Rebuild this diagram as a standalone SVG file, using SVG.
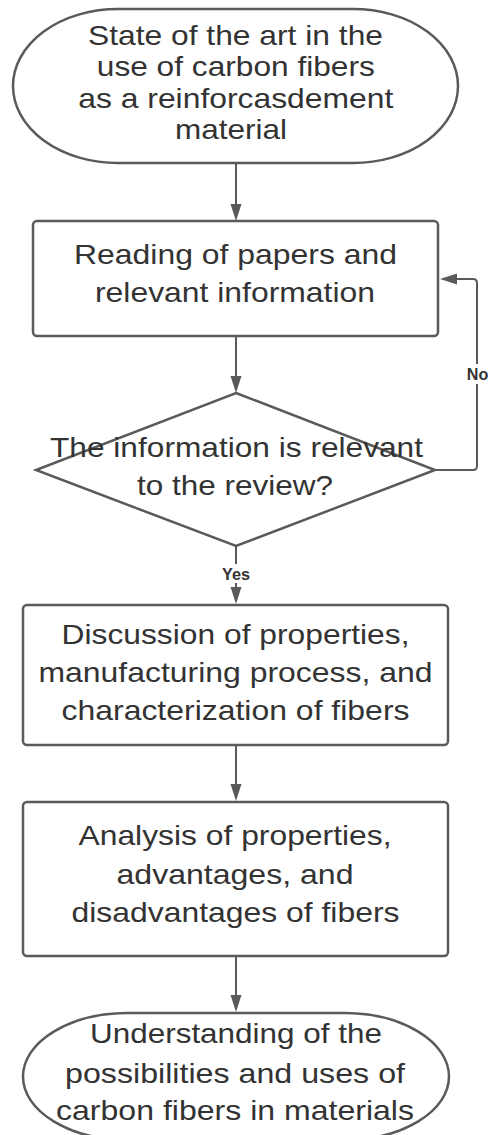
<svg xmlns="http://www.w3.org/2000/svg" width="490" height="1135" viewBox="0 0 490 1135">
<style>
.shape{fill:#ffffff;stroke:#5a5a5a;stroke-width:2.5}
.t{font-family:"Liberation Sans",Arial,sans-serif;font-size:28px;fill:#333333;text-anchor:middle}
.lbl{font-family:"Liberation Sans",Arial,sans-serif;font-size:16px;font-weight:bold;fill:#333333;text-anchor:middle}
.conn{fill:none;stroke:#5a5a5a;stroke-width:2}
</style>
<defs>
<marker id="arrow" markerUnits="userSpaceOnUse" markerWidth="17" markerHeight="12" refX="0" refY="6" orient="auto" viewBox="0 0 17 12">
<path d="M0,0.5 L17,6 L0,11.5 Z" fill="#5a5a5a"/>
</marker>
</defs>
<rect width="490" height="1135" fill="#ffffff"/>
<g id="connectors">
<path class="conn" d="M236,163 L236,204" marker-end="url(#arrow)"/>
<path class="conn" d="M236,336 L236,376" marker-end="url(#arrow)"/>
<path class="conn" d="M236,546 L236,587" marker-end="url(#arrow)"/>
<path class="conn" d="M236,745 L236,784" marker-end="url(#arrow)"/>
<path class="conn" d="M236,956 L236,995" marker-end="url(#arrow)"/>
<path class="conn" d="M435,470 L473,470 Q477,470 477,466 L477,283 Q477,279 473,279 L457,279" marker-end="url(#arrow)"/>
<rect x="464" y="364" width="26" height="20" fill="#ffffff"/>
<text class="lbl" x="477.5" y="380" textLength="21.5" lengthAdjust="spacingAndGlyphs">No</text>
<rect x="219" y="564" width="34" height="19" fill="#ffffff"/>
<text class="lbl" x="236" y="579.5" textLength="28" lengthAdjust="spacingAndGlyphs">Yes</text>
</g>
<g id="start">
<rect class="shape" x="13" y="9" width="445" height="154" rx="105" ry="77"/>
<text class="t" x="235.5" y="44.5" textLength="295" lengthAdjust="spacingAndGlyphs">State of the art in the</text>
<text class="t" x="235.8" y="76" textLength="278" lengthAdjust="spacingAndGlyphs">use of carbon fibers</text>
<text class="t" x="235.8" y="108" textLength="315" lengthAdjust="spacingAndGlyphs">as a reinforcasdement</text>
<text class="t" x="231" y="138.5" textLength="112" lengthAdjust="spacingAndGlyphs">material</text>
</g>
<g id="reading">
<rect class="shape" x="33" y="221" width="405" height="115" rx="4"/>
<text class="t" x="235.5" y="263.5" textLength="323" lengthAdjust="spacingAndGlyphs">Reading of papers and</text>
<text class="t" x="235" y="301.5" textLength="280" lengthAdjust="spacingAndGlyphs">relevant information</text>
</g>
<g id="decision">
<polygon class="shape" points="236,393 435,470 236,546 36,470"/>
<text class="t" x="236.5" y="457" textLength="373" lengthAdjust="spacingAndGlyphs">The information is relevant</text>
<text class="t" x="235" y="495" textLength="196" lengthAdjust="spacingAndGlyphs">to the review?</text>
</g>
<g id="discussion">
<rect class="shape" x="23" y="605" width="425" height="140" rx="4"/>
<text class="t" x="235.5" y="643.5" textLength="348" lengthAdjust="spacingAndGlyphs">Discussion of properties,</text>
<text class="t" x="235.5" y="681.5" textLength="394" lengthAdjust="spacingAndGlyphs">manufacturing process, and</text>
<text class="t" x="235.5" y="719.5" textLength="348" lengthAdjust="spacingAndGlyphs">characterization of fibers</text>
</g>
<g id="analysis">
<rect class="shape" x="23" y="802" width="425" height="154" rx="4"/>
<text class="t" x="235" y="845" textLength="313" lengthAdjust="spacingAndGlyphs">Analysis of properties,</text>
<text class="t" x="235" y="883.5" textLength="237" lengthAdjust="spacingAndGlyphs">advantages, and</text>
<text class="t" x="235.5" y="921.5" textLength="328" lengthAdjust="spacingAndGlyphs">disadvantages of fibers</text>
</g>
<g id="end">
<rect class="shape" x="23" y="1013" width="426" height="127" rx="105" ry="63.5"/>
<text class="t" x="236" y="1043" textLength="292" lengthAdjust="spacingAndGlyphs">Understanding of the</text>
<text class="t" x="235" y="1082.5" textLength="340" lengthAdjust="spacingAndGlyphs">possibilities and uses of</text>
<text class="t" x="235" y="1120" textLength="358" lengthAdjust="spacingAndGlyphs">carbon fibers in materials</text>
</g>
</svg>
